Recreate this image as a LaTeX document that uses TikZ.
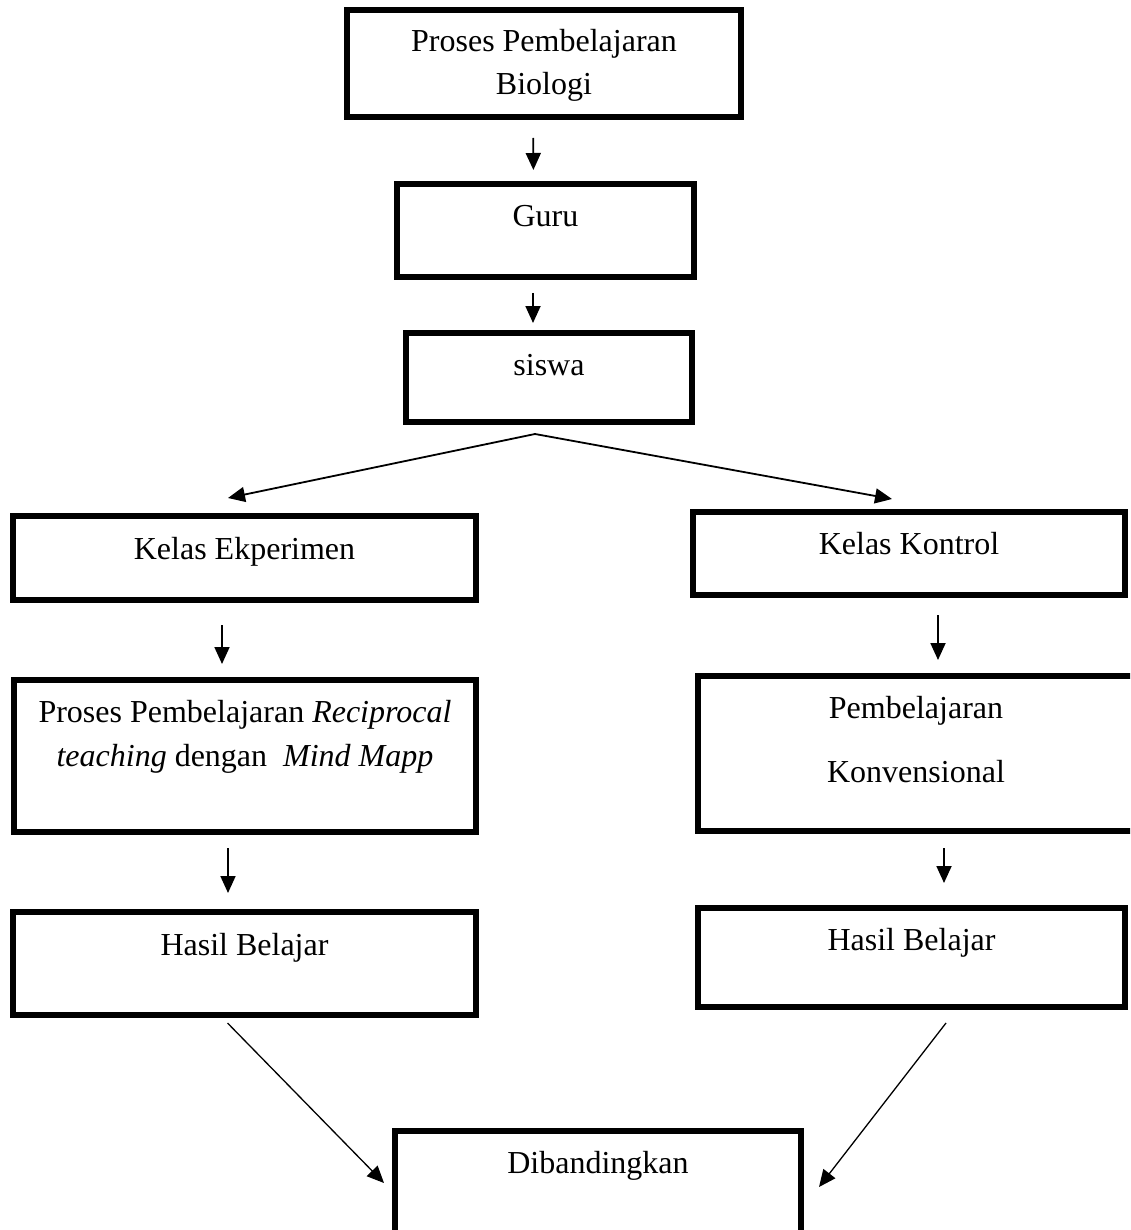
\documentclass[tikz,border=0pt]{standalone}
\usepackage{fontspec}
\setmainfont{Liberation Serif}
\usetikzlibrary{arrows.meta,calc}

\begin{document}
\begin{tikzpicture}[
  x=1pt, y=-1pt,
  >={Triangle[length=17pt,width=15pt]},
  kotak/.style={draw,line width=6pt,outer sep=0pt,inner sep=0pt,align=center,
    font=\fontsize{32}{43.5}\selectfont,text height=22pt},
  panah/.style={->,line width=1.8pt}
]
\useasboundingbox (0,0) rectangle (1130,1230);
\clip (0,0) rectangle (1130,1230);

\node[kotak,minimum width=394pt,minimum height=107pt,text height=65.5pt,text depth=2.5pt] (bio) at (544,63.5) {Proses Pembelajaran\\Biologi};
\node[kotak,minimum width=297pt,minimum height=93pt,text depth=29pt] (guru) at (545.5,230.5) {Guru};
\node[kotak,minimum width=286pt,minimum height=89pt,text depth=27pt] (siswa) at (549,377.5) {siswa};
\coordinate (cabang) at ($(siswa.south)+(-14,12)$);

\node[kotak,minimum width=463pt,minimum height=84pt,text depth=20pt] (kelasE) at (244.5,558) {Kelas Ekperimen};
\node[kotak,minimum width=432pt,minimum height=83pt,text depth=21pt] (kelasK) at (909,553.5) {Kelas Kontrol};
\node[kotak,minimum width=462pt,minimum height=152pt,text height=65.5pt,text depth=45.5pt] (prosesRT) at (245,756) {Proses Pembelajaran \textit{Reciprocal}\\\textit{teaching} dengan \ \textit{Mind Mapp}};
\node[kotak,minimum width=436pt,minimum height=155pt,text height=86pt,text depth=29pt] (konv) at (916,753.5) {Pembelajaran\\[20.5pt]Konvensional};
\node[kotak,minimum width=463pt,minimum height=103pt,text depth=39pt] (hasilE) at (244.5,963.5) {Hasil Belajar};
\node[kotak,minimum width=427pt,minimum height=99pt,text depth=37pt] (hasilK) at (911.5,957.5) {Hasil Belajar};
\node[kotak,minimum width=406pt,minimum height=106pt,text depth=44pt] (banding) at (598,1184) {Dibandingkan};

\draw[panah,shorten <=21pt,shorten >=14pt] ([xshift=-11pt]bio.south) -- ([xshift=-12pt]guru.north);
\draw[panah,shorten <=16pt,shorten >=10pt] ([xshift=-12.5pt]guru.south) -- ([xshift=-16pt]siswa.north);
\draw[panah] (cabang) -- ([xshift=-16.5pt,yshift=18pt]kelasE.north);
\draw[panah] (cabang) -- ([xshift=-17pt,yshift=13pt]kelasK.north);
\draw[panah,shorten <=25pt,shorten >=16pt] ([xshift=-22.5pt]kelasE.south) -- ([xshift=-23pt]prosesRT.north);
\draw[panah,shorten <=20pt,shorten >=16pt] ([xshift=29pt]kelasK.south) -- ([xshift=22pt]konv.north);
\draw[panah,shorten <=16pt,shorten >=19pt] ([xshift=-17pt]prosesRT.south) -- ([xshift=-16.5pt]hasilE.north);
\draw[panah,shorten <=17pt,shorten >=25pt] ([xshift=28pt]konv.south) -- ([xshift=32.5pt]hasilK.north);
\draw[panah,line width=1.3pt] ([xshift=-17pt,yshift=-8pt]hasilE.south) -- ([xshift=-11pt,yshift=1pt]banding.west);
\draw[panah,line width=1.3pt] ([xshift=34.5pt,yshift=-16pt]hasilK.south) -- ([xshift=18pt,yshift=-3pt]banding.east);
\end{tikzpicture}
\end{document}
